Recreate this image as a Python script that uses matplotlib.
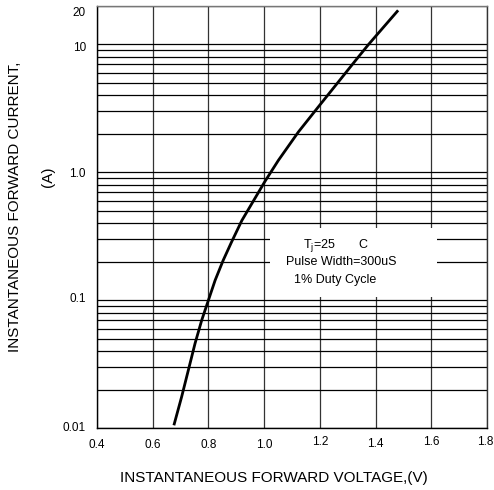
import matplotlib
matplotlib.use("Agg")
import matplotlib.pyplot as plt
from matplotlib.patches import Rectangle
from matplotlib.transforms import ScaledTranslation
from matplotlib.ticker import FixedLocator, LogLocator, NullFormatter

plt.rcParams['font.family'] = ['Liberation Sans', 'DejaVu Sans']

# Curve data
voltage = [0.676, 0.704, 0.728, 0.752, 0.776, 0.800, 0.824, 0.853, 0.883, 0.920,
           0.962, 1.003, 1.051, 1.123, 1.194, 1.266, 1.326, 1.374, 1.434, 1.481]
current = [0.0105, 0.0176, 0.0284, 0.0459, 0.0698, 0.100, 0.143, 0.205, 0.285, 0.42,
           0.60, 0.85, 1.24, 2.07, 3.24, 5.08, 7.4, 9.96, 14.1, 18.5]

x_ticks = [0.4, 0.6, 0.8, 1.0, 1.2, 1.4, 1.6, 1.8]
x_tick_labels = ["0.4", "0.6", "0.8", "1.0", "1.2", "1.4", "1.6", "1.8"]
y_ticks = [0.01, 0.1, 1.0, 10, 20]
y_tick_labels = ["0.01", "0.1", "1.0", "10", "20"]

note_lines = ["Pulse Width=300uS", "1% Duty Cycle"]

fig = plt.figure(figsize=(4.94, 4.90), dpi=100)
ax = fig.add_axes([97/494, 1-428/490, 390/494, 422/490])
ax.set_yscale('log')
ax.set_xlim(0.4, 1.8)
ax.set_ylim(0.01, 20)

ax.xaxis.set_major_locator(FixedLocator(x_ticks))
ax.set_xticklabels(x_tick_labels)
ax.yaxis.set_major_locator(FixedLocator(y_ticks))
ax.set_yticklabels(y_tick_labels)
ax.yaxis.set_minor_locator(LogLocator(base=10, subs=[2, 3, 4, 5, 6, 7, 8, 9]))
ax.yaxis.set_minor_formatter(NullFormatter())
ax.tick_params(which='both', length=0, labelsize=8.5)
ax.tick_params(axis='x', pad=8)
ax.tick_params(axis='y', pad=8)

ax.set_axisbelow(True)
ax.grid(True, axis='y', which='both', color='black', linewidth=0.9)
ax.grid(True, axis='x', which='major', color='#333333', linewidth=0.9)

for s in ax.spines.values():
    s.set_linewidth(1.0)
ax.spines['top'].set_color('#777777')
ax.spines['right'].set_color('#333333')

# small tick label offsets (px)
x_offsets = [(0, 0), (0, 0), (0, 0), (0, 0), (0, 3), (0, 1), (0, 3), (-2, 3)]
for lab, (dx, dy) in zip(ax.get_xticklabels(), x_offsets):
    lab.set_transform(lab.get_transform() + ScaledTranslation(dx/100, dy/100, fig.dpi_scale_trans))
y_offsets = [2, 3, 0, -2, -5]
for lab, off in zip(ax.get_yticklabels(), y_offsets):
    lab.set_transform(lab.get_transform() + ScaledTranslation(0, off/100, fig.dpi_scale_trans))

# white note box
ax.add_patch(Rectangle((1.021, 0.105), 0.60, 0.37-0.105, facecolor='white',
                       edgecolor='none', zorder=1))
ax.text(1.140, 0.255, r'T$_{\mathregular{j}}$=25', fontsize=9, ha='left', va='baseline', zorder=4)
ax.text(1.355, 0.255, 'C', fontsize=9, ha='center', va='baseline', zorder=4)
ax.text(1.276, 0.198, note_lines[0], fontsize=9, ha='center', va='center', zorder=4)
ax.text(1.254, 0.143, note_lines[1], fontsize=9, ha='center', va='center', zorder=4)

ax.plot(voltage, current, color='black', linewidth=2.0, zorder=3, solid_capstyle='butt')

fig.text(274/494, 1-478/490, 'INSTANTANEOUS FORWARD VOLTAGE,(V)', fontsize=11,
         ha='center', va='center')
fig.text(15/494, 1-207/490, 'INSTANTANEOUS FORWARD CURRENT,', fontsize=11,
         ha='center', va='center', rotation=90)
fig.text(48/494, 1-177/490, '(A)', fontsize=11, ha='center', va='center', rotation=90)

fig.savefig('out.png', dpi=100)
